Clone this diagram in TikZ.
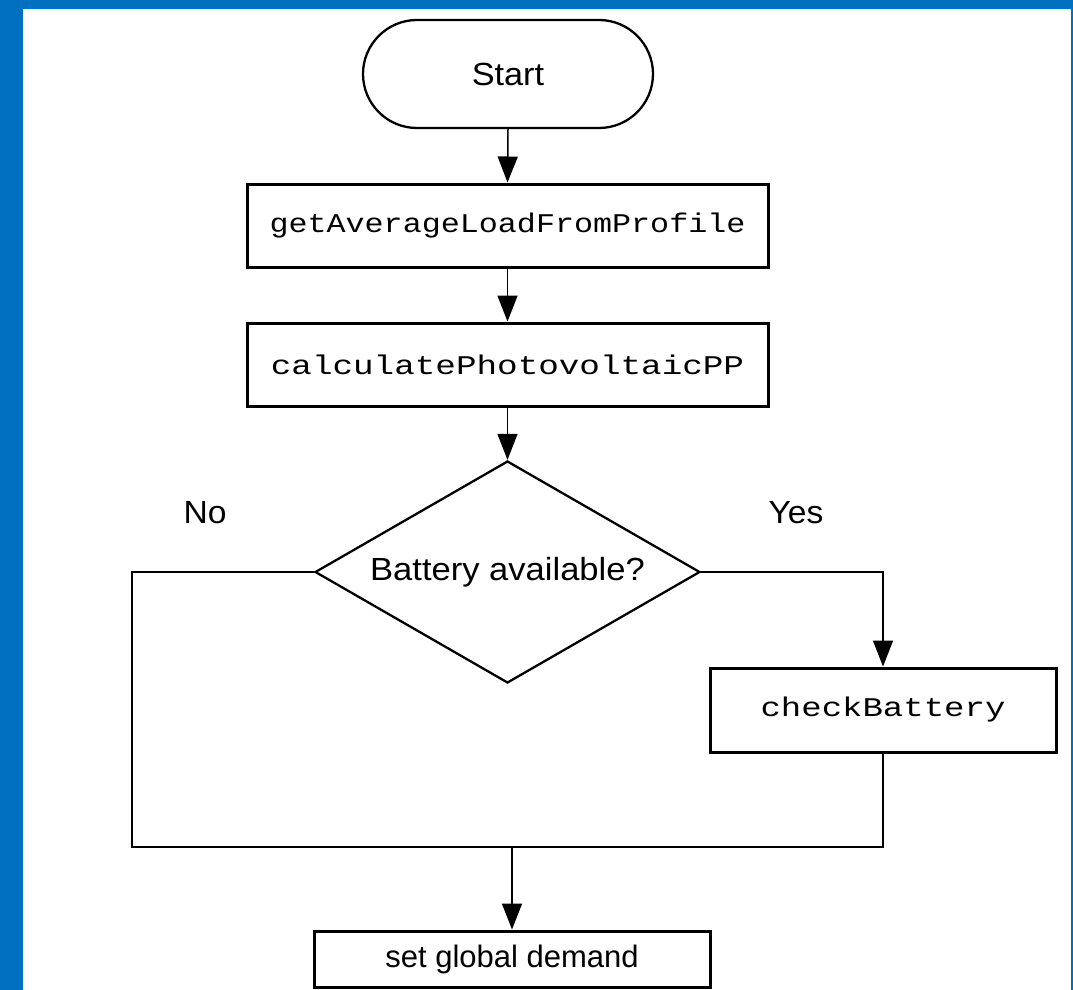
\documentclass[tikz,border=0pt]{standalone}
\usepackage{fontspec}
\setmainfont{Liberation Sans}
\newfontfamily\monofont{Liberation Mono}
\usetikzlibrary{shapes.geometric,arrows.meta}
\definecolor{frameblue}{HTML}{0070C0}
\tikzset{
  sans/.style={font=\fontsize{32}{38}\selectfont},
  mono/.style={font=\monofont\fontsize{27}{32}\selectfont},
  procbox/.style={draw,line width=3pt,rectangle,inner sep=0pt,mono},
  terminal/.style={draw,line width=2.3pt,rectangle,rounded corners=54pt,inner sep=0pt,sans},
  decision/.style={draw,line width=2.3pt,diamond,aspect=1.73,inner sep=0pt,sans},
  plainbox/.style={draw,line width=3pt,rectangle,inner sep=0pt,sans},
  conn/.style={line width=1.5pt},
  arr/.style={conn,-{Triangle[length=26pt,width=20pt]}},
  lbl/.style={sans,inner sep=0pt}
}
\begin{document}
\begin{tikzpicture}[x=1pt,y=-1pt]
\useasboundingbox (0,0) rectangle (1073,990);
\fill[frameblue] (0,0) rectangle (1073,990);
\fill[white] (23,9) rectangle (1071,990);

\node[terminal,minimum width=290pt,minimum height=108pt] (start) at (508,74) {\scalebox{1.07}[1]{Start}};
\node[procbox,minimum width=521pt,minimum height=83pt] (b1) at (507.5,225.5) {\scalebox{1.175}[1]{getAverageLoadFromProfile}};
\node[procbox,minimum width=521pt,minimum height=83pt] (b2) at (507.5,364.5) {\scalebox{1.27}[1]{calculatePhotovoltaicPP}};
\node[decision,minimum width=385pt,minimum height=222pt] (dec) at (507.5,572) {\scalebox{1.08}[1]{Battery available?}};
\node[procbox,minimum width=346pt,minimum height=84pt] (cb) at (883,710) {\scalebox{1.26}[1]{checkBattery}};
\node[plainbox,minimum width=396pt,minimum height=56pt] (sgd) at (512,959) {\fontsize{31}{36}\selectfont set global demand};

\node[lbl] (no) at (205,513) {\scalebox{1.05}[1]{No}};
\node[lbl] (yes) at (796,513) {\scalebox{1.05}[1]{Yes}};

\coordinate (jl) at (132,847);
\coordinate (jm) at (512,847);

\draw[arr] (start.south) -- (b1.north);
\draw[arr] (b1.south) -- (b2.north);
\draw[arr] (b2.south) -- (dec.north);
\draw[arr] (dec.east) -| (cb.north);
\draw[conn] (cb.south) |- (jl) |- (dec.west);
\draw[arr] (jm) -- (sgd.north);
\end{tikzpicture}
\end{document}
